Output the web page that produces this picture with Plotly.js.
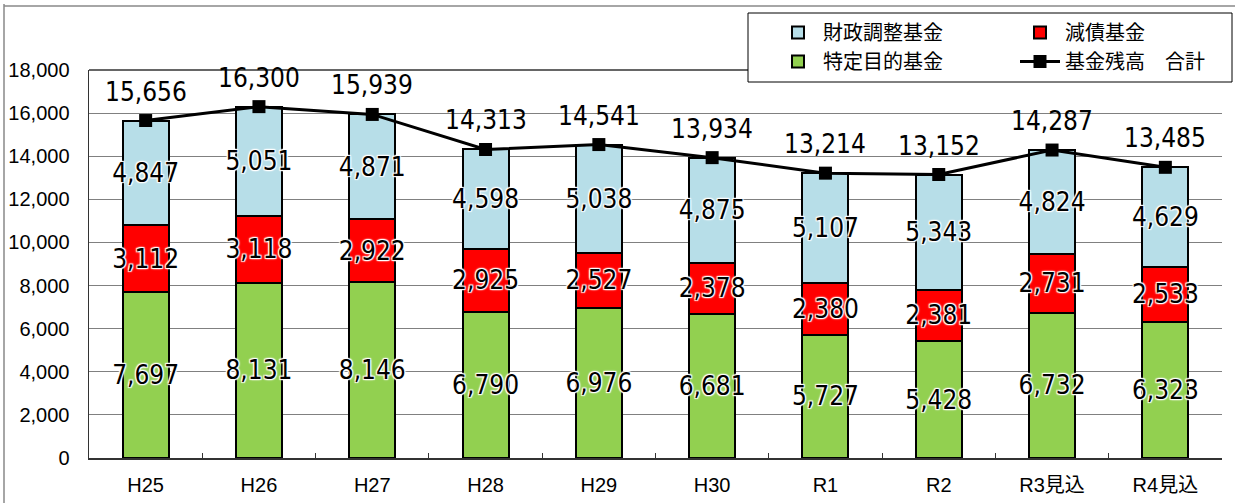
<!DOCTYPE html>
<html><head><meta charset="utf-8">
<script src="https://cdn.plot.ly/plotly-3.0.1.min.js"></script>
<style>html,body{margin:0;padding:0;background:#fff;}</style>
</head><body>
<div id="chart" style="width:1235px;height:503px;"></div>
<script>
const categories = ['H25','H26','H27','H28','H29','H30','R1','R2','R3見込','R4見込'];
const tokutei = [7697,8131,8146,6790,6976,6681,5727,5428,6732,6323];
const gensai = [3112,3118,2922,2925,2527,2378,2380,2381,2731,2533];
const zaisei = [4847,5051,4871,4598,5038,4875,5107,5343,4824,4629];
const total = [15656,16300,15939,14313,14541,13934,13214,13152,14287,13485];

const numFam = 'Liberation Sans Narrow, Arial Narrow, DejaVu Sans Condensed, sans-serif';
const halo = 'white 1px 1px 1px, white -1px -1px 1px, white 1px -1px 1px, white -1px 1px 1px, white 0px 0px 3px';
const numFont = {family:numFam, size:26, color:'#000', shadow:halo};

function barTrace(name, vals, color, leg, rank){
  return {type:'bar', name:name, x:categories, y:vals, legend:leg, legendrank:rank, legendgroup:name,
    marker:{color:color, line:{color:'#000', width:2}},
    texttemplate:'%{y:,}', textposition:'inside', insidetextanchor:'middle',
    textangle:0, textfont:numFont, cliponaxis:false, hoverinfo:'skip'};
}
// stacking order bottom->top: 特定目的基金, 減債基金, 財政調整基金
const data = [
  barTrace('特定目的基金', tokutei, '#92D050', 'legend', 2),
  barTrace('減債基金', gensai, '#FF0000', 'legend2', 1),
  barTrace('財政調整基金', zaisei, '#B7DEE8', 'legend', 1),
  {type:'scatter', mode:'lines+markers', name:'基金残高\u3000合計', x:categories, y:total,
   legend:'legend2', legendrank:2, legendgroup:'total',
   line:{color:'#000', width:3}, marker:{symbol:'square', size:13, color:'#000'}, cliponaxis:false}
];

const annotations = categories.map((c,i)=>({x:c, y:total[i], xref:'x', yref:'y',
  text: total[i].toLocaleString('en-US'), showarrow:false, yanchor:'middle', yshift:29,
  font:{family:numFam, size:26, color:'#000'}}));

const legFont = {family:'Noto Sans CJK JP, sans-serif', size:20, color:'#000'};
const layout = {
  width:1235, height:503,
  margin:{l:89, r:13, t:70, b:45, autoexpand:false},
  paper_bgcolor:'#fff', plot_bgcolor:'#fff',
  barmode:'stack', bargap:0.594,
  showlegend:true,
  uniformtext:{mode:'show', minsize:26},
  font:{family:'Liberation Sans, Noto Sans CJK JP, sans-serif', color:'#000'},
  xaxis:{type:'category', range:[-0.5, 9.5], autorange:false, showgrid:false, showline:true, linecolor:'#333', linewidth:1.5,
    ticks:'inside', tickson:'boundaries', ticklen:5, tickcolor:'#333',
    tickfont:{family:'Liberation Sans, Noto Sans CJK JP, sans-serif', size:20}, ticklabelstandoff:8,
    zeroline:false, fixedrange:true},
  yaxis:{range:[0,18000], autorange:false, dtick:2000, tickformat:',d', showgrid:true, gridcolor:'#808080', gridwidth:1,
    showline:true, linecolor:'#333', linewidth:1.5, ticks:'', zeroline:false,
    tickfont:{family:'Liberation Sans, Arial, sans-serif', size:20}, ticklabelstandoff:14, fixedrange:true},
  legend:{orientation:'v', xref:'container', yref:'container', x:773/1235, y:1-13/503,
    xanchor:'left', yanchor:'top', borderwidth:0, bgcolor:'rgba(0,0,0,0)',
    itemwidth:40, tracegroupgap:7, traceorder:'normal', font:legFont},
  legend2:{orientation:'v', xref:'container', yref:'container', x:1015/1235, y:1-13/503,
    xanchor:'left', yanchor:'top', borderwidth:0, bgcolor:'rgba(0,0,0,0)',
    itemwidth:40, tracegroupgap:7, traceorder:'normal', font:legFont},
  annotations:annotations,
  shapes:[
    {type:'line', xref:'paper', yref:'paper', x0:(4-89)/1133, x1:(4-89)/1133, y0:1.17, y1:-0.2, line:{color:'#888', width:1.5}},
    {type:'line', xref:'paper', yref:'paper', x0:(4-89)/1133, x1:1.02, y0:(458-6)/388, y1:(458-6)/388, line:{color:'#888', width:1.5}},
    {type:'line', xref:'paper', yref:'paper', x0:0, x1:1, y0:1, y1:1, line:{color:'#333', width:1.5}},
    {type:'rect', xref:'paper', yref:'paper', layer:'above', x0:(748-89)/1133, x1:(1232-89)/1133,
      y0:(458-13)/388, y1:(458-82)/388, fillcolor:'#fff', line:{color:'#000', width:1}}
  ]
};
Plotly.newPlot('chart', data, layout, {displayModeBar:false, staticPlot:true});
</script>
</body></html>
